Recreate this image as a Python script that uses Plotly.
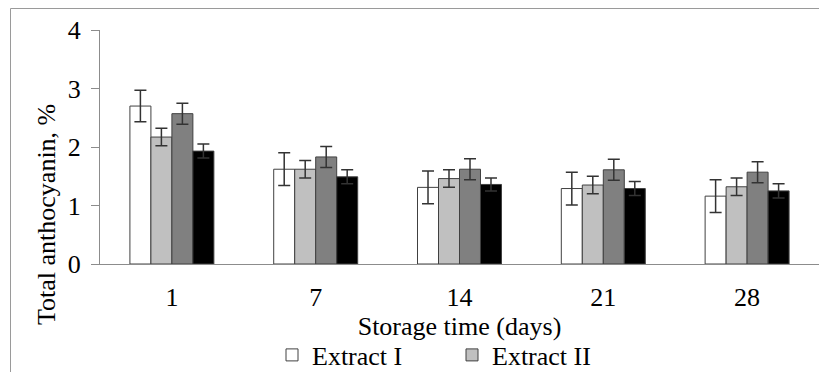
import plotly.graph_objects as go

categories = ["1", "7", "14", "21", "28"]
series_names = ["Extract I", "Extract II", "Extract III", "Extract IV"]
series_colors = ["#ffffff", "#c0c0c0", "#808080", "#000000"]
extract_1 = [2.70, 1.62, 1.31, 1.29, 1.16]
extract_2 = [2.17, 1.62, 1.46, 1.35, 1.32]
extract_3 = [2.57, 1.83, 1.62, 1.61, 1.57]
extract_4 = [1.93, 1.49, 1.36, 1.29, 1.25]
err_1 = [0.27, 0.28, 0.28, 0.28, 0.28]
err_2 = [0.15, 0.15, 0.15, 0.15, 0.15]
err_3 = [0.18, 0.18, 0.18, 0.18, 0.18]
err_4 = [0.12, 0.12, 0.11, 0.12, 0.12]
legend_shown = [True, True, False, False]

values = [extract_1, extract_2, extract_3, extract_4]
errors = [err_1, err_2, err_3, err_4]

FONT = "'Times New Roman', 'Liberation Serif', 'DejaVu Serif', serif"
FS = 26

fig = go.Figure()
for name, color, vals, errs, show in zip(series_names, series_colors, values, errors, legend_shown):
    fig.add_trace(go.Bar(
        x=categories, y=vals, name=name, showlegend=show,
        marker=dict(color=color, line=dict(color="#404040", width=1)),
        error_y=dict(type="data", array=errs, visible=True, color="#333333", thickness=1.5, width=6),
    ))

W, H = 819, 372
ml, mr, mt, mb = 100, 0, 30, 108
pw, ph = W - ml - mr, H - mt - mb

def px_x(x):
    return (x - ml) / pw

def px_y(y):
    return (H - mb - y) / ph

fig.update_layout(
    width=W, height=H,
    margin=dict(l=ml, r=mr, t=mt, b=mb, autoexpand=False),
    paper_bgcolor="white", plot_bgcolor="white",
    font=dict(family=FONT, size=FS, color="black"),
    barmode="group", bargap=0.416, bargroupgap=0,
    showlegend=True,
    legend=dict(orientation="h", x=px_x(272), y=px_y(355), xanchor="left", yanchor="middle",
                entrywidth=135, entrywidthmode="pixels", itemwidth=30,
                font=dict(family=FONT, size=FS), bgcolor="rgba(0,0,0,0)"),
    xaxis=dict(showline=True, linecolor="#8c8c8c", linewidth=1, ticks="", showgrid=False,
               automargin=False,
               ticklabelstandoff=10, tickfont=dict(family=FONT, size=FS),
               title=dict(text="Storage time (days)", standoff=0, font=dict(family=FONT, size=FS))),
    yaxis=dict(range=[0, 4], dtick=1, showline=True, linecolor="#8c8c8c", linewidth=1,
               ticks="outside", ticklen=8, tickcolor="#8c8c8c", showgrid=False, automargin=False,
               ticklabelstandoff=5, zeroline=False, tickfont=dict(family=FONT, size=FS)),
    annotations=[dict(text="Total anthocyanin, %", xref="paper", yref="paper",
                      x=px_x(46), y=px_y(215), textangle=-90, showarrow=False,
                      xanchor="center", yanchor="middle", font=dict(family=FONT, size=FS))],
    shapes=[dict(type="rect", xref="paper", yref="paper",
                 x0=px_x(10.5), x1=1.2, y0=-1.0, y1=px_y(8.5),
                 line=dict(color="#9a9a9a", width=1), fillcolor="rgba(0,0,0,0)", layer="below")],
)

fig.write_html("out.html")
